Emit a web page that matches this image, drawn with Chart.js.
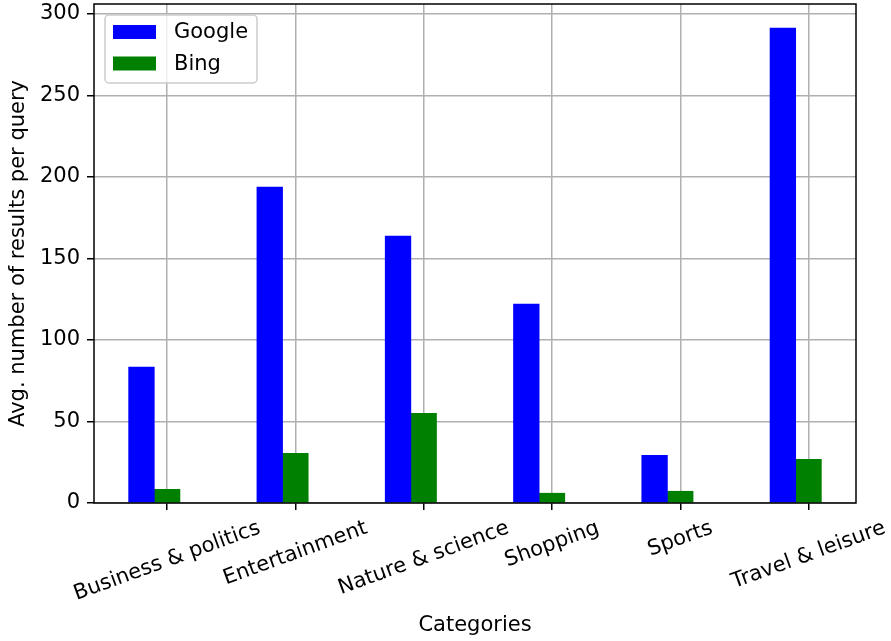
<!DOCTYPE html>
<html>
<head>
<meta charset="utf-8">
<script src="https://cdn.jsdelivr.net/npm/chart.js@4"></script>
<style>
  html, body { margin: 0; padding: 0; background: #fff; }
  canvas { display: block; }
</style>
</head>
<body>
<canvas id="myChart" width="891" height="641"></canvas>
<script>
// data
const categories = ['Business & politics', 'Entertainment', 'Nature & science', 'Shopping', 'Sports', 'Travel & leisure'];
const googleResults = [83.3, 193.7, 163.7, 122, 29.3, 291.3];
const bingResults = [8.4, 30.5, 55, 6, 7.2, 26.8];
const yTicks = [0, 50, 100, 150, 200, 250, 300];

const barWidth = 0.2; // google bar sits one width left of the tick, bing on the tick
const FONT_SIZE = 21;
const FONT = FONT_SIZE + 'px "DejaVu Sans"';

Chart.defaults.font.family = '"DejaVu Sans"';
Chart.defaults.font.size = FONT_SIZE;
Chart.defaults.color = '#000';

// x tick labels rotated 20deg and centred on the tick (matplotlib style)
const xLabels = {
  id: 'xLabels',
  afterDraw(chart) {
    const { ctx } = chart;
    const x = chart.scales.x;
    const angle = 20 * Math.PI / 180;
    const top = x.top + 13;
    const lineH = FONT_SIZE * 1.17;
    ctx.save();
    ctx.font = FONT;
    ctx.fillStyle = '#000';
    ctx.textAlign = 'center';
    ctx.textBaseline = 'middle';
    categories.forEach((label, i) => {
      const w = ctx.measureText(label).width;
      const boxH = w * Math.sin(angle) + lineH * Math.cos(angle);
      ctx.save();
      ctx.translate(x.getPixelForValue(i), top + boxH / 2);
      ctx.rotate(-angle);
      ctx.fillText(label, 0, 0);
      ctx.restore();
    });
    ctx.restore();
  }
};

// black box round the plot area
const frame = {
  id: 'frame',
  afterDraw(chart) {
    const { ctx, chartArea: a } = chart;
    ctx.save();
    ctx.strokeStyle = '#000';
    ctx.lineWidth = 1.5;
    ctx.strokeRect(a.left, a.top, a.right - a.left, a.bottom - a.top);
    ctx.restore();
  }
};

// legend inside the upper left corner
const insideLegend = {
  id: 'insideLegend',
  afterDraw(chart) {
    const { ctx, chartArea } = chart;
    const x0 = chartArea.left + 11, y0 = chartArea.top + 11;
    ctx.save();
    ctx.beginPath();
    ctx.roundRect(x0, y0, 152, 68, 4);
    ctx.fillStyle = 'rgba(255,255,255,0.8)';
    ctx.fill();
    ctx.strokeStyle = '#cccccc';
    ctx.lineWidth = 1.5;
    ctx.stroke();
    ctx.font = FONT;
    ctx.textBaseline = 'middle';
    chart.data.datasets.forEach((ds, i) => {
      const cy = y0 + 17 + i * 31.5;
      ctx.fillStyle = ds.backgroundColor;
      ctx.fillRect(x0 + 8, cy - 7, 43, 14);
      ctx.fillStyle = '#000';
      ctx.fillText(ds.label, x0 + 69, cy + 1);
    });
    ctx.restore();
  }
};

const ctx = document.getElementById('myChart').getContext('2d');
const myChart = new Chart(ctx, {
  type: 'bar',
  data: {
    datasets: [
      {
        label: 'Google',
        data: googleResults.map((v, i) => ({ x: i - barWidth, y: v })),
        backgroundColor: '#0000ff'
      },
      {
        label: 'Bing',
        data: bingResults.map((v, i) => ({ x: i, y: v })),
        backgroundColor: '#008000'
      }
    ]
  },
  options: {
    responsive: false,
    animation: false,
    grouped: false,
    barPercentage: 1,
    categoryPercentage: 1,
    borderWidth: 0,
    layout: { padding: { top: 4, right: 35, left: 0, bottom: 0 } },
    plugins: {
      legend: { display: false },
      tooltip: { enabled: false }
    },
    scales: {
      x: {
        type: 'linear',
        min: -0.57,
        max: 5.37,
        offset: false,
        z: 1,
        afterBuildTicks: s => { s.ticks = categories.map((c, i) => ({ value: i })); },
        afterFit: s => { s.height = 138; s.paddingLeft = 0; s.paddingRight = 0; },
        ticks: { display: false },
        grid: { offset: false, color: '#b0b0b0', lineWidth: 1.5, tickColor: '#000', tickWidth: 1.5, tickLength: 7 },
        border: { display: false },
        title: { display: true, text: 'Categories', padding: { top: 0, bottom: 3 } }
      },
      y: {
        min: 0,
        max: 306,
        z: 1,
        afterBuildTicks: s => { s.ticks = yTicks.map(v => ({ value: v })); },
        afterFit: s => { s.width = 94; s.paddingTop = 0; s.paddingBottom = 0; },
        ticks: { padding: 7 },
        grid: { color: '#b0b0b0', lineWidth: 1.5, tickColor: '#000', tickWidth: 1.5, tickLength: 7 },
        border: { display: false },
        title: { display: true, text: 'Avg. number of results per query', padding: { top: 6, bottom: 0 } }
      }
    }
  },
  plugins: [frame, xLabels, insideLegend]
});
</script>
</body>
</html>
